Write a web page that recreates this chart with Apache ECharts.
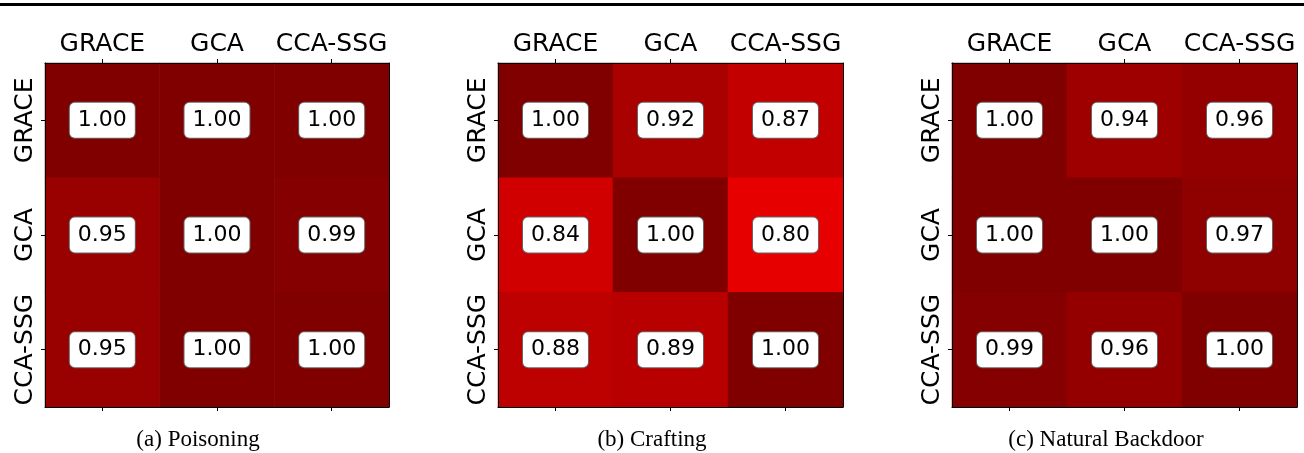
<!DOCTYPE html>
<html>
<head>
<meta charset="utf-8">
<script src="https://cdn.jsdelivr.net/npm/echarts@6/dist/echarts.min.js"></script>
<style>
  html, body { margin: 0; padding: 0; background: #fff; }
  #chart { width: 1304px; height: 453px; }
</style>
</head>
<body>
<div id="chart"></div>
<script>
// Models used both as source (rows) and target (columns)
const models = ['GRACE', 'GCA', 'CCA-SSG'];

// Transfer rates, one row per source model
const poisoning = [
  [1.00, 1.00, 1.00],
  [0.95, 1.00, 0.99],
  [0.95, 1.00, 1.00]
];
const crafting = [
  [1.00, 0.92, 0.87],
  [0.84, 1.00, 0.80],
  [0.88, 0.89, 1.00]
];
const naturalBackdoor = [
  [1.00, 0.94, 0.96],
  [1.00, 1.00, 0.97],
  [0.99, 0.96, 1.00]
];

const captions = ['(a) Poisoning', '(b) Crafting', '(c) Natural Backdoor'];
const matrices = [poisoning, crafting, naturalBackdoor];

// panel layout
const panels = [
  { left: 45, width: 344, capX: 198 },
  { left: 498, width: 345, capX: 652 },
  { left: 952, width: 345, capX: 1106 }
];
const TOP = 63, SIZE = 344;
const SANS = 'DejaVu Sans';

const grids = [], xAxes = [], yAxes = [], series = [], graphics = [];

panels.forEach((p, k) => {
  grids.push({ left: p.left, top: TOP, width: p.width, height: SIZE });

  const tick = { show: true, alignWithLabel: true, interval: 0, length: 4, lineStyle: { color: '#000', width: 1 } };
  const line = { show: true, onZero: false, lineStyle: { color: '#000', width: 1 } };

  // top axis with model names
  xAxes.push({
    type: 'category', gridIndex: k, data: models, position: 'top', z: 10,
    axisLine: line, axisTick: tick,
    axisLabel: { interval: 0, hideOverlap: false, fontFamily: SANS, fontSize: 25, color: '#000', margin: 6 },
    splitLine: { show: false }
  });
  // bottom axis: ticks only
  xAxes.push({
    type: 'category', gridIndex: k, data: models, position: 'bottom', z: 10,
    axisLine: line, axisTick: tick, axisLabel: { show: false },
    splitLine: { show: false }
  });
  // left axis with rotated names
  yAxes.push({
    type: 'category', gridIndex: k, data: models, inverse: true, position: 'left', z: 10,
    axisLine: line, axisTick: tick,
    axisLabel: { interval: 0, hideOverlap: false, fontFamily: SANS, fontSize: 25, color: '#000', rotate: 90, margin: 7 },
    splitLine: { show: false }
  });
  // right frame edge
  yAxes.push({
    type: 'category', gridIndex: k, data: models, inverse: true, position: 'right', z: 10,
    axisLine: line, axisTick: { show: false }, axisLabel: { show: false },
    splitLine: { show: false }
  });

  const data = [];
  matrices[k].forEach((row, i) => row.forEach((v, j) => data.push([j, i, v])));

  series.push({
    type: 'heatmap',
    xAxisIndex: 2 * k,
    yAxisIndex: 2 * k,
    data: data,
    itemStyle: { borderWidth: 0 },
    emphasis: { disabled: true },
    label: {
      show: true,
      formatter: (d) => d.value[2].toFixed(2),
      fontFamily: SANS,
      fontSize: 22,
      lineHeight: 22,
      color: '#000',
      backgroundColor: '#fff',
      borderColor: '#666',
      borderWidth: 1,
      borderRadius: 5,
      padding: [7, 8, 6, 8]
    }
  });

  graphics.push({
    type: 'text',
    x: p.capX, y: 440,
    style: {
      text: captions[k],
      font: '23px "Liberation Serif"',
      fill: '#000',
      align: 'center',
      verticalAlign: 'middle'
    }
  });
});

// rule across the top of the figure
graphics.push({
  type: 'rect',
  shape: { x: 0, y: 3, width: 1304, height: 3 },
  style: { fill: '#000' }
});

const chart = echarts.init(document.getElementById('chart'), null, { renderer: 'canvas' });
chart.setOption({
  animation: false,
  backgroundColor: '#fff',
  grid: grids,
  xAxis: xAxes,
  yAxis: yAxes,
  visualMap: {
    show: false,
    type: 'continuous',
    min: 0,
    max: 1,
    seriesIndex: [0, 1, 2],
    // diverging blue-white-red ramp
    inRange: { color: ['#00004c', '#0000ff', '#ffffff', '#ff0000', '#800000'] }
  },
  series: series,
  graphic: graphics
});
</script>
</body>
</html>
